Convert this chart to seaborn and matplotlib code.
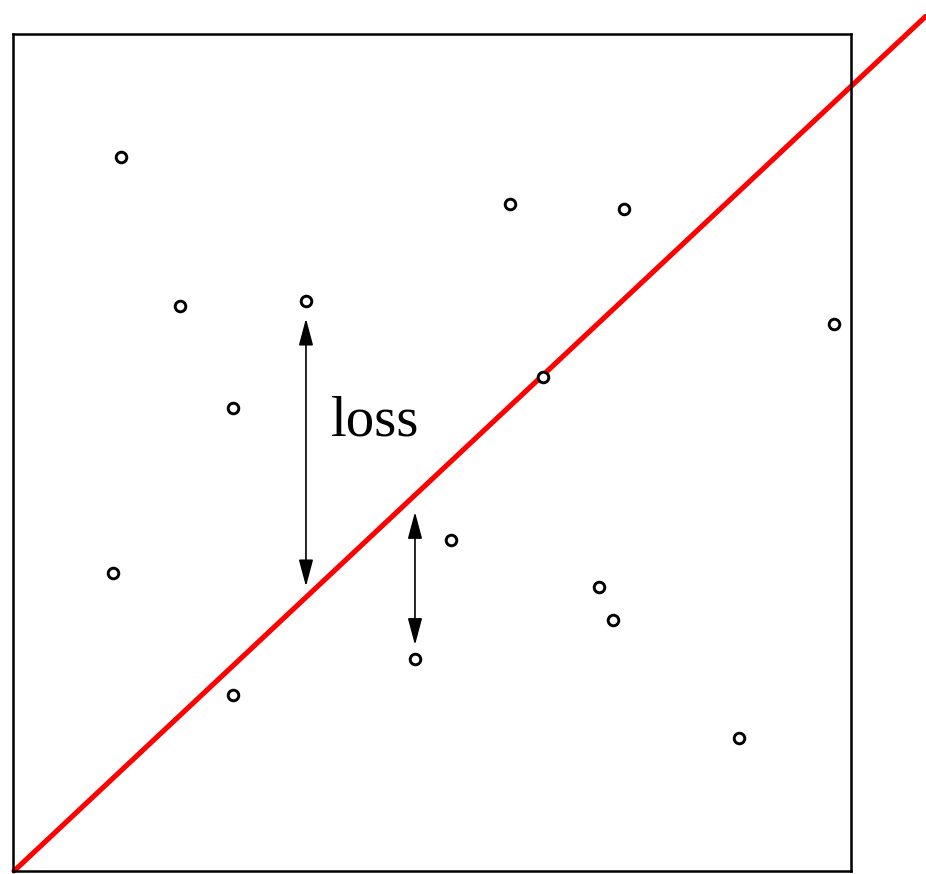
import matplotlib
matplotlib.use("Agg")
import matplotlib.pyplot as plt
import seaborn as sns
import pandas as pd

# Observations
point_x = [12.9, 20.0, 35.0, 26.3, 59.3, 72.9, 98.0, 63.3, 12.0, 52.3, 70.0, 71.6, 48.0, 26.3, 86.6]
point_y = [85.3, 67.5, 68.1, 55.3, 79.7, 79.1, 65.4, 59.0, 35.6, 39.6, 33.9, 30.0, 25.3, 21.0, 15.9]

# Fitted line (runs past the plot frame)
fit_x = [0.18, 108.9]
fit_y = [0.0, 102.1]

# Residual arrows: x, y at point end, y at line end
arrow_x = [35.0, 48.0]
arrow_from = [66.0, 27.0]
arrow_to = [34.0, 42.9]

label_text = "loss"

sns.set_theme(style="white")

fig = plt.figure(figsize=(9.26, 8.74), dpi=100)
ax = fig.add_axes([12.5 / 926, 3 / 874, 838.5 / 926, 837 / 874])

pts = pd.DataFrame({"x": point_x, "y": point_y})
fit = pd.DataFrame({"x": fit_x, "y": fit_y})

sns.lineplot(data=fit, x="x", y="y", ax=ax, color="#ff0000", linewidth=3.7, zorder=2)
for ln in ax.lines:
    ln.set_clip_on(False)

sns.scatterplot(data=pts, x="x", y="y", ax=ax, s=58, facecolor="white",
                edgecolor="black", linewidth=2.1, zorder=3)

for x, y0, y1 in zip(arrow_x, arrow_from, arrow_to):
    ax.annotate("", xy=(x, y1), xytext=(x, y0),
                arrowprops=dict(arrowstyle="<|-|>,head_length=0.97,head_width=0.26",
                                color="black", lw=1.2, shrinkA=0, shrinkB=0,
                                mutation_scale=17))

ax.text(38.0, 52.0, label_text, fontsize=41, family="Liberation Serif",
        color="black", ha="left", va="baseline")

ax.set_xlim(0, 100)
ax.set_ylim(0, 100)
ax.set_xticks([])
ax.set_yticks([])
ax.set_xlabel("")
ax.set_ylabel("")
for sp in ax.spines.values():
    sp.set_visible(True)
    sp.set_color("black")
    sp.set_linewidth(1.8)

fig.savefig("out.png", dpi=100, facecolor="white")
